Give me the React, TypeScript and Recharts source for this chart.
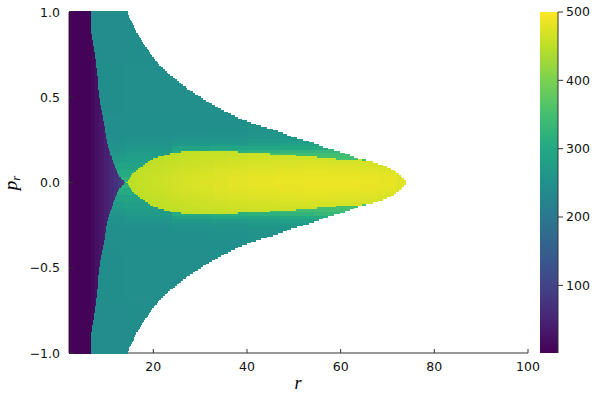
import { Bar, BarChart, ScatterChart, Scatter, XAxis, YAxis } from "recharts";

const xTicks = [20, 40, 60, 80, 100];
const yTicks = [-1, -0.5, 0, 0.5, 1];
const colorbarTicks = [100, 200, 300, 400, 500];

// one entry per 0.01 of p_r starting at 0
const outerEdge = [
  74, 73.9, 73.6, 73.2, 72.9, 72.4, 71.8, 71.3, 70.7, 70, 69, 68, 66.9, 65.4, 63.8, 62.9, 61.9, 60.9, 59.8, 58.6,
  57.4, 56.3, 55.3, 54.3, 53.3, 52, 50.7, 49.5, 48.6, 47.6, 46.6, 45.5, 44.3, 43, 41.9, 40.9, 39.9, 38.9, 38.1, 37.4,
  36.6, 35.9, 35.2, 34.5, 33.8, 33.1, 32.5, 31.8, 31.2, 30.7, 30.2, 29.6, 29, 28.4, 27.8, 27.3, 26.9, 26.4, 26, 25.5,
  25.1, 24.6, 24.1, 23.6, 23.2, 22.9, 22.4, 22, 21.6, 21.2, 20.9, 20.7, 20.4, 20.1, 19.8, 19.5, 19.3, 19, 18.8, 18.6,
  18.3, 18.1, 17.9, 17.6, 17.4, 17.1, 16.9, 16.7, 16.4, 16.3, 16.1, 15.9, 15.8, 15.6, 15.4, 15.2, 15.1, 14.9, 14.8, 14.7, 14.6,
];
const purpleEdge = [
  14, 13.8, 13.4, 13, 12.7, 12.5, 12.3, 12.2, 12.1, 11.9, 11.8, 11.7, 11.5, 11.4, 11.2, 11.1, 11, 10.8, 10.7, 10.6,
  10.5, 10.4, 10.3, 10.2, 10.2, 10.1, 10, 9.9, 9.9, 9.8, 9.7, 9.7, 9.6, 9.6, 9.5, 9.5, 9.4, 9.3, 9.3, 9.2,
  9.1, 9.1, 9, 8.9, 8.9, 8.8, 8.7, 8.7, 8.6, 8.6, 8.5, 8.5, 8.4, 8.3, 8.3, 8.2, 8.2, 8.2, 8.2, 8.1,
  8.1, 8.1, 8.1, 8, 8, 8, 7.9, 7.9, 7.8, 7.8, 7.8, 7.7, 7.7, 7.6, 7.6, 7.5, 7.5, 7.4, 7.4, 7.3,
  7.3, 7.2, 7.2, 7.1, 7, 7, 6.9, 6.9, 6.8, 6.8, 6.7, 6.7, 6.7, 6.7, 6.7, 6.7, 6.7, 6.7, 6.7, 6.7, 6.7,
];
// the lobe only reaches p_r = 0.18
const lobeStart = [14.2, 14.5, 14.8, 15, 15.3, 15.5, 15.8, 16.2, 16.7, 17.2, 17.7, 18.3, 18.8, 19.4, 20, 21.1, 22.2, 23.5, 26];
const lobeEnd = [74, 73.9, 73.6, 73.2, 72.9, 72.4, 71.8, 71.3, 70.7, 70, 69, 68, 66.9, 64.5, 59, 55, 50.5, 45, 38];

const purpleColumns = [2, 6.7, 7.5, 8.5, 9.5, 10.5, 11.5, 12.5, 13.5];
const purpleValues = [4, 12, 24, 34, 45, 57, 70, 84, 98];

const tealColumns = [2, 14, 24, 32, 40, 47, 54];
const tealBands = [0, 0.04, 0.08, 0.12, 0.16, 0.18, 0.2, 0.22, 0.24, 0.26, 0.28, 0.3, 0.34, 0.4, 0.5, 0.7, 1];
const tealValues = [
  [320, 320, 320, 320, 320, 320, 320],
  [305, 305, 305, 305, 305, 305, 305],
  [290, 290, 290, 290, 290, 290, 290],
  [275, 282, 292, 320, 340, 345, 350],
  [265, 275, 300, 325, 345, 345, 345],
  [260, 270, 305, 315, 320, 325, 330],
  [255, 262, 290, 296, 295, 300, 305],
  [252, 256, 268, 272, 278, 285, 290],
  [250, 252, 258, 260, 268, 272, 278],
  [249, 250, 252, 254, 260, 264, 268],
  [248, 249, 250, 252, 256, 258, 260],
  [247, 248, 249, 250, 254, 255, 256],
  [246, 248, 248, 249, 251, 253, 254],
  [245, 247, 247, 248, 249, 250, 252],
  [244, 246, 246, 246, 246, 246, 246],
  [243, 244, 244, 244, 244, 244, 244],
  [240, 242, 242, 242, 242, 242, 242],
];

const lobeColumns = [14, 16, 18, 20, 22, 24, 26, 28, 30, 33, 36, 40, 46, 52, 58, 64, 68, 72];
const lobeBands = [0, 0.02, 0.04, 0.06, 0.08, 0.1, 0.12, 0.14, 0.16, 0.18];
const lobeValues = [
  [450, 454, 458, 461, 464, 467, 470, 472, 474, 477, 480, 483, 485, 486, 486, 485, 483, 478],
  [450, 453, 457, 460, 463, 466, 469, 471, 473, 476, 479, 482, 484, 485, 485, 484, 482, 477],
  [449, 452, 456, 459, 462, 465, 467, 470, 472, 475, 477, 480, 482, 483, 483, 482, 479, 474],
  [449, 451, 454, 457, 460, 463, 465, 468, 470, 473, 475, 478, 480, 481, 480, 479, 476, 471],
  [449, 450, 452, 455, 458, 460, 463, 465, 467, 470, 472, 475, 477, 478, 477, 475, 472, 467],
  [449, 450, 451, 453, 456, 458, 460, 462, 464, 467, 469, 471, 473, 474, 473, 471, 468, 464],
  [449, 450, 450, 452, 454, 456, 458, 460, 462, 464, 466, 468, 469, 469, 468, 466, 463, 460],
  [449, 450, 450, 451, 453, 454, 456, 458, 460, 461, 463, 465, 465, 465, 464, 462, 460, 458],
  [449, 450, 450, 450, 451, 452, 454, 455, 456, 457, 459, 460, 461, 461, 460, 459, 457, 456],
  [449, 450, 450, 450, 450, 451, 452, 453, 454, 454, 455, 456, 456, 456, 456, 456, 456, 456],
];

const viridis = [
  "#440154", "#482475", "#414487", "#355f8d", "#2a788e", "#21918c",
  "#22a884", "#44bf70", "#7ad151", "#bddf26", "#fde725",
];

const PLOT_W = 459;
const PLOT_H = 341;
const R_MIN = 2;
const R_MAX = 100;
const V_MIN = 1;
const V_MAX = 500;
const pxPerR = PLOT_W / (R_MAX - R_MIN);
const rowPx = (0.01 * PLOT_H) / 2;
const AXIS = "#333";
const TICK_FONT = "'DejaVu Sans', sans-serif";

function colorOf(v: number) {
  const t = ((v - V_MIN) / (V_MAX - V_MIN)) * (viridis.length - 1);
  const i = Math.min(Math.floor(t), viridis.length - 2);
  const f = t - i;
  const chan = (hex: string, at: number) => parseInt(hex.slice(at, at + 2), 16);
  const mix = (at: number) => Math.round(chan(viridis[i], at) * (1 - f) + chan(viridis[i + 1], at) * f);
  return `rgb(${mix(1)},${mix(3)},${mix(5)})`;
}

function bandOf(bands: number[], p: number) {
  let k = 0;
  while (k < bands.length - 1 && bands[k + 1] <= p + 1e-9) k++;
  return k;
}

type HeatCell = { r: number; p: number; w: number; v: number };

// cut the stretch r1..r2 at the column edges, one cell per column
function addSpans(out: HeatCell[], p: number, r1: number, r2: number, columns: number[], values: number[]) {
  for (let c = 0; c < columns.length; c++) {
    const a = Math.max(r1, columns[c]);
    const b = Math.min(r2, c + 1 < columns.length ? columns[c + 1] : Infinity);
    if (b > a) out.push({ r: (a + b) / 2, p, w: b - a, v: values[c] });
  }
}

const cells: HeatCell[] = [];
outerEdge.forEach((outer, i) => {
  const p = i / 100;
  const teal = tealValues[bandOf(tealBands, p)];
  const row: HeatCell[] = [];
  addSpans(row, p, R_MIN, purpleEdge[i], purpleColumns, purpleValues);
  if (i < lobeStart.length) {
    addSpans(row, p, purpleEdge[i], lobeStart[i], tealColumns, teal);
    addSpans(row, p, lobeStart[i], lobeEnd[i], lobeColumns, lobeValues[bandOf(lobeBands, p)]);
    addSpans(row, p, lobeEnd[i], outer, tealColumns, teal);
  } else {
    addSpans(row, p, purpleEdge[i], outer, tealColumns, teal);
  }
  cells.push(...row);
  if (i > 0) cells.push(...row.map((c) => ({ ...c, p: -p })));
});

const HeatRect = (props: any) => {
  const { cx, cy, payload } = props;
  const w = payload.w * pxPerR;
  return (
    <rect
      x={cx - w / 2}
      y={cy - rowPx / 2}
      width={w}
      height={rowPx + 0.3}
      fill={colorOf(payload.v)}
      shapeRendering="crispEdges"
    />
  );
};

const XTick = ({ x, y, payload }: any) => (
  <g>
    <line x1={x} x2={x} y1={y} y2={y - 4} stroke={AXIS} />
    <text x={x} y={y + 18} textAnchor="middle" fontSize={12.5} fontFamily={TICK_FONT} fill="#111">
      {payload.value}
    </text>
  </g>
);

const YTick = ({ x, y, payload }: any) => (
  <g>
    <line x1={x} x2={x + 4} y1={y} y2={y} stroke={AXIS} />
    <text x={x - 9} y={y + 4.5} textAnchor="end" fontSize={12.5} fontFamily={TICK_FONT} fill="#111">
      {payload.value.toFixed(1).replace("-", "\u2212")}
    </text>
  </g>
);

export default function App() {
  return (
    <div style={{ position: "absolute", left: 0, top: 0, width: 600, height: 400, background: "#fff" }}>
      <div style={{ position: "absolute", left: 0, top: 0 }}>
        <ScatterChart width={600} height={400} margin={{ top: 12, right: 72, bottom: 27, left: 9 }}>
          <XAxis
            type="number"
            dataKey="r"
            domain={[R_MIN, R_MAX]}
            ticks={xTicks}
            height={20}
            tickSize={0}
            tickMargin={0}
            tickLine={false}
            axisLine={{ stroke: AXIS }}
            tick={<XTick />}
            interval={0}
          />
          <YAxis
            type="number"
            dataKey="p"
            domain={[-1, 1]}
            ticks={yTicks}
            width={60}
            tickSize={0}
            tickMargin={0}
            tickLine={false}
            axisLine={{ stroke: AXIS }}
            tick={<YTick />}
            interval={0}
          />
          <Scatter data={cells} shape={HeatRect} isAnimationActive={false} />
          <text x={298} y={389} textAnchor="middle" fontSize={18} fontStyle="italic" fontFamily="'Liberation Serif', serif">
            r
          </text>
          <text
            transform="translate(17,183) rotate(-90)"
            textAnchor="middle"
            fontSize={19}
            fontStyle="italic"
            fontFamily="'Liberation Serif', serif"
          >
            p
            <tspan fontSize={13} dy={3}>
              r
            </tspan>
          </text>
        </ScatterChart>
      </div>
      <div style={{ position: "absolute", left: 0, top: 0 }}>
        <BarChart
          width={600}
          height={400}
          data={[{ name: "colour", top: V_MAX }]}
          margin={{ top: 12, right: 0, bottom: 47, left: 540 }}
          barCategoryGap={0}
        >
          <defs>
            <linearGradient id="viridisBar" x1="0" y1="1" x2="0" y2="0">
              {viridis.map((c, i) => (
                <stop key={c} offset={i / (viridis.length - 1)} stopColor={c} />
              ))}
            </linearGradient>
          </defs>
          <XAxis dataKey="name" hide />
          <YAxis
            orientation="right"
            domain={[V_MIN, V_MAX]}
            ticks={colorbarTicks}
            width={42}
            tickSize={5}
            tickMargin={3}
            tick={{ fontSize: 12.5, fontFamily: TICK_FONT, fill: "#111" }}
            stroke={AXIS}
            tickLine={{ stroke: AXIS }}
            axisLine={{ stroke: AXIS }}
            interval={0}
          />
          <Bar dataKey="top" fill="url(#viridisBar)" isAnimationActive={false} />
        </BarChart>
      </div>
    </div>
  );
}
